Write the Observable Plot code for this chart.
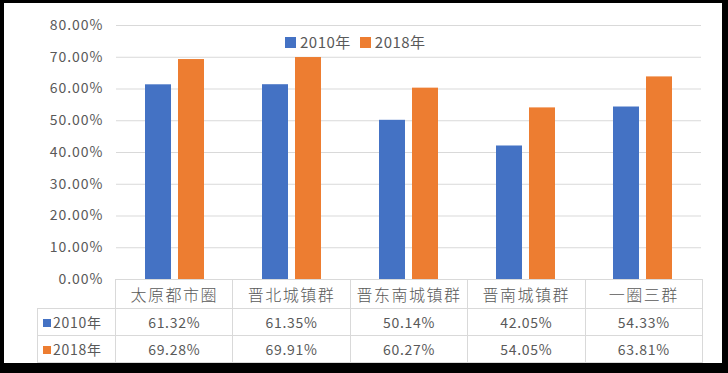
<!DOCTYPE html>
<html><head><meta charset="utf-8">
<script src="https://cdn.jsdelivr.net/npm/d3@7"></script>
<script src="https://cdn.jsdelivr.net/npm/@observablehq/plot@0.6"></script>
<style>
html,body{margin:0;padding:0;background:#000;width:728px;height:373px;overflow:hidden;}
#panel{position:absolute;left:4px;top:3px;width:718px;height:360px;background:#fff;overflow:hidden;font-family:"Noto Sans CJK SC","Noto Sans",sans-serif;color:#595959;}
#panel svg{position:absolute;left:0;top:0;}
#legend{position:absolute;top:29px;left:281px;height:20px;line-height:20px;display:flex;align-items:center;font-size:15px;letter-spacing:0.5px;}
#legend .item{display:flex;align-items:center;margin-right:9px;}
#legend .sw{display:inline-block;width:11px;height:11px;margin-right:4px;}
#tbl{position:absolute;left:33px;top:276px;border-collapse:collapse;table-layout:fixed;}
#tbl td{border:1px solid #d9d9d9;padding:0;text-align:center;white-space:nowrap;overflow:hidden;}
#tbl td.blank{border-top:none;border-left:none;}
#tbl tr.cat td{height:28px;font-size:16px;letter-spacing:1.5px;font-weight:300;}
#tbl tr.val td{height:26px;font-size:14px;letter-spacing:0.7px;}
#tbl td.rh{text-align:left;font-size:15px;letter-spacing:0.5px;padding-left:5px;}
#tbl td.rh .sw{display:inline-block;width:8px;height:8px;margin-right:2px;vertical-align:middle;position:relative;top:-1px;}
</style>
</head><body>
<div id="panel"></div>
<script>
const categories = ["太原都市圈","晋北城镇群","晋东南城镇群","晋南城镇群","一圈三群"];
const series = ["2010年","2018年"];
const values2010 = [0.6132,0.6135,0.5014,0.4205,0.5433];
const values2018 = [0.6928,0.6991,0.6027,0.5405,0.6381];
const yTicks = [0,0.1,0.2,0.3,0.4,0.5,0.6,0.7,0.8];
const colors = ["#4472C4","#ED7D31"];

const seriesValues = [values2010, values2018];
const data = categories.flatMap((c,i)=>series.map((s,j)=>({category:c, series:s, value:seriesValues[j][i]})));
const fmt = d3.format(".2%");

const W = 718, H = 360, ML = 111, MR = 20, MT = 22, MB = 84;

const chart = Plot.plot({
  width: W, height: H, marginLeft: ML, marginRight: MR, marginTop: MT, marginBottom: MB,
  style: {fontFamily: '"Noto Sans CJK SC","Noto Sans",sans-serif', fontSize: "14px", color: "#595959", background: "transparent", letterSpacing: "1px"},
  fx: {domain: categories, padding: 0, axis: null},
  x: {domain: series, paddingInner: 0.206, paddingOuter: 0.83, axis: null},
  y: {domain: [0, 0.8], ticks: yTicks, tickFormat: fmt, tickSize: 0, tickPadding: 13, label: null},
  color: {domain: series, range: colors},
  marks: [
    Plot.ruleY(yTicks, {stroke: "#d9d9d9", strokeWidth: 1}),
    Plot.barY(data, {fx: "category", x: "series", y: "value", fill: "series"})
  ]
});
const panel = document.getElementById("panel");
panel.appendChild(chart);

// legend
const legend = d3.select(panel).append("div").attr("id","legend");
series.forEach((s,j)=>{
  const it = legend.append("div").attr("class","item");
  it.append("span").attr("class","sw").style("background", colors[j]);
  it.append("span").text(s);
});

// data table
const colW = (W - ML - MR) / categories.length;
const tbl = d3.select(panel).append("table").attr("id","tbl");
const cg = tbl.append("colgroup");
cg.append("col").style("width", (ML - 33) + "px");
categories.forEach(()=>cg.append("col").style("width", colW + "px"));
const r0 = tbl.append("tr").attr("class","cat");
r0.append("td").attr("class","blank");
categories.forEach(c=>r0.append("td").text(c));
series.forEach((s,j)=>{
  const r = tbl.append("tr").attr("class","val");
  const h = r.append("td").attr("class","rh");
  h.append("span").attr("class","sw").style("background", colors[j]);
  h.append("span").text(s);
  seriesValues[j].forEach(v=>r.append("td").text(fmt(v)));
});
</script>
</body></html>
